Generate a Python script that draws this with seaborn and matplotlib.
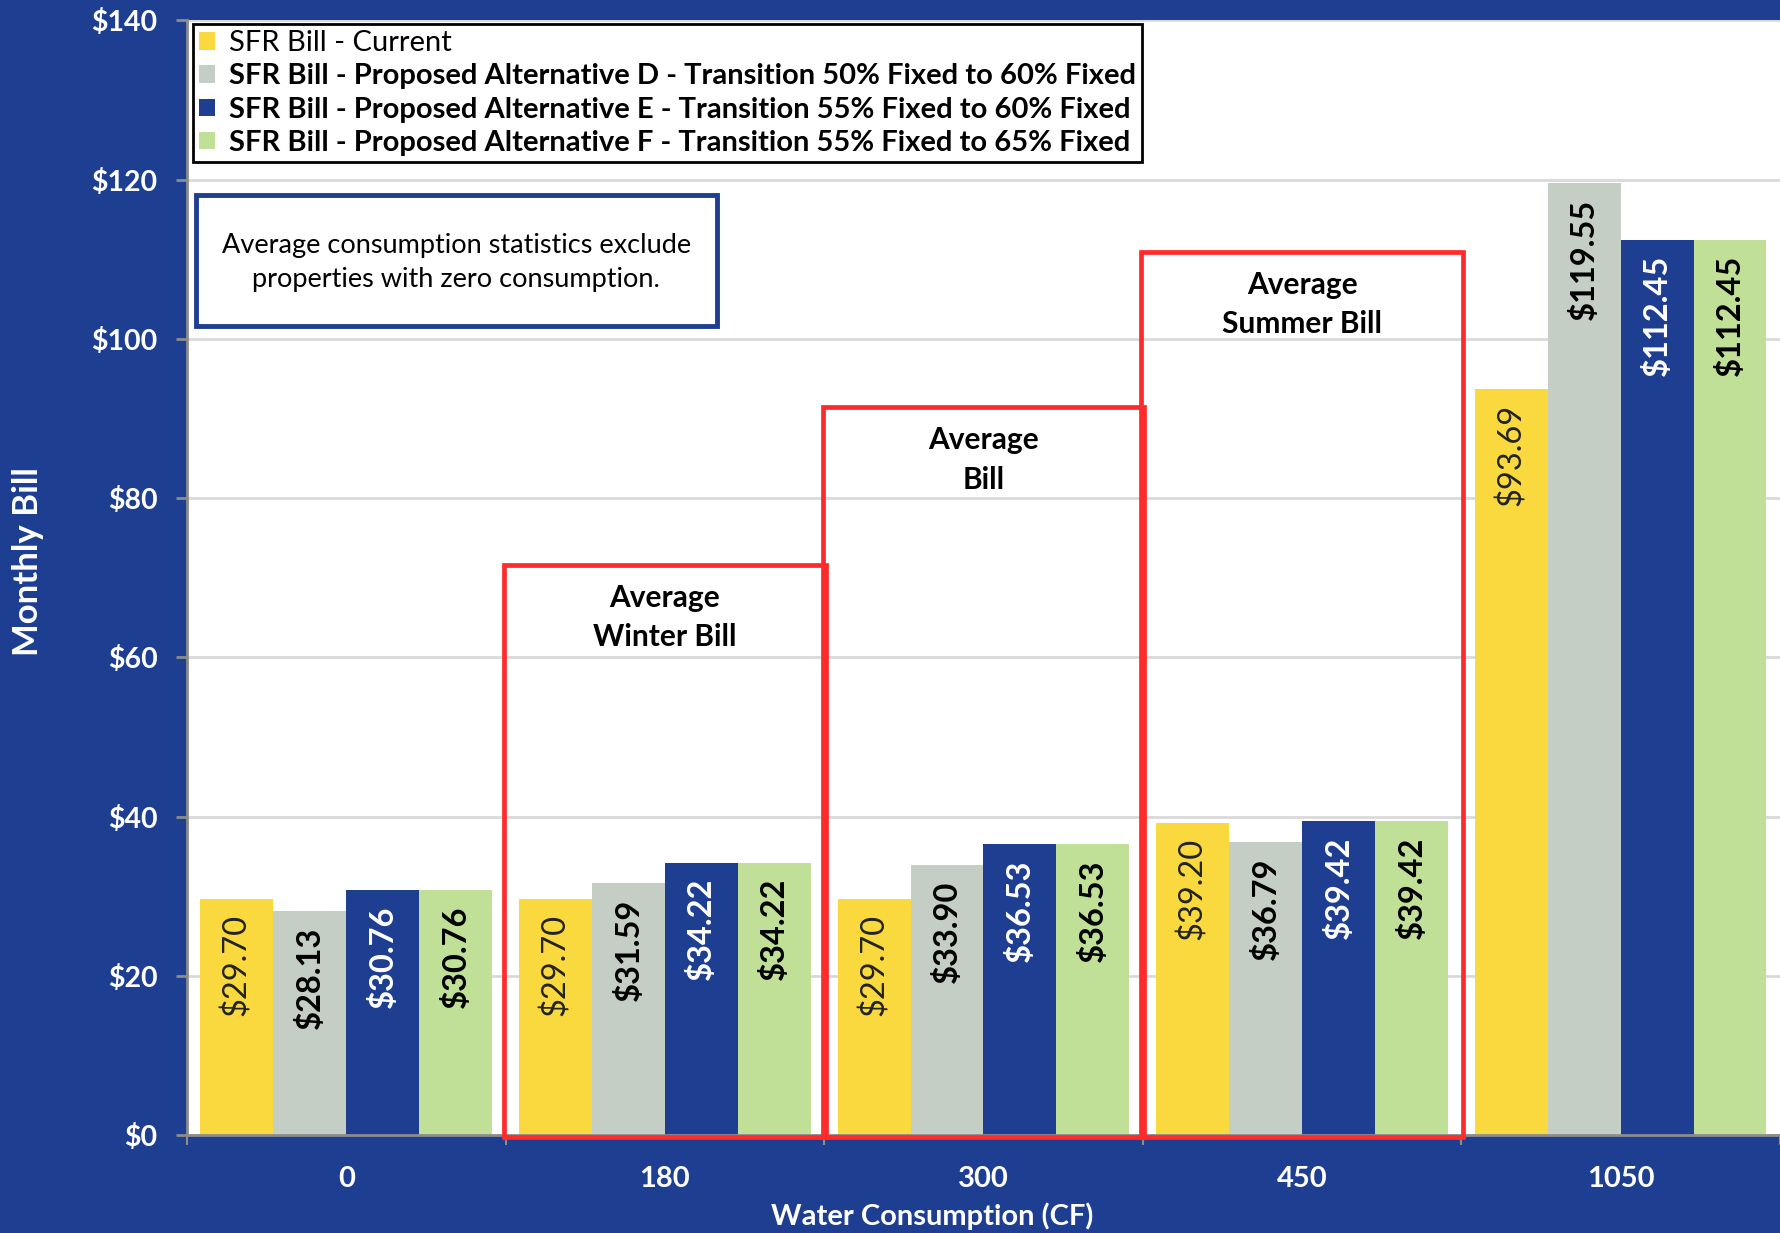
import matplotlib
matplotlib.use("Agg")
import matplotlib.pyplot as plt
from matplotlib.patches import Rectangle
from matplotlib.ticker import FixedLocator, FuncFormatter
import seaborn as sns
import pandas as pd

# ---- data -------------------------------------------------------------
consumption = ["0", "180", "300", "450", "1050"]
series_names = [
    "SFR Bill - Current",
    "SFR Bill - Proposed Alternative D - Transition 50% Fixed to 60% Fixed",
    "SFR Bill - Proposed Alternative E - Transition 55% Fixed to 60% Fixed",
    "SFR Bill - Proposed Alternative F - Transition 55% Fixed to 65% Fixed",
]
bill_current = [29.70, 29.70, 29.70, 39.20, 93.69]
bill_alt_d = [28.13, 31.59, 33.90, 36.79, 119.55]
bill_alt_e = [30.76, 34.22, 36.53, 39.42, 112.45]
bill_alt_f = [30.76, 34.22, 36.53, 39.42, 112.45]

highlight_titles = ["Average\nWinter Bill", "Average\nBill", "Average\nSummer Bill"]
highlight_categories = ["180", "300", "450"]
highlight_tops = [71.6, 91.4, 110.9]

# ---- styling ----------------------------------------------------------
NAVY = "#1E3E91"
colors = ["#F9D93E", "#C4CEC5", NAVY, "#C0DF97"]
label_colors = ["#222222", "black", "white", "black"]
label_weights = ["normal", "bold", "bold", "bold"]

sns.set_theme(style="white")
plt.rcParams["font.family"] = ["Lato", "DejaVu Sans"]

df = pd.DataFrame({
    "consumption": consumption * 4,
    "bill": bill_current + bill_alt_d + bill_alt_e + bill_alt_f,
    "series": sum([[s] * len(consumption) for s in series_names], []),
})

fig = plt.figure(figsize=(17.8, 12.33), dpi=100, facecolor=NAVY)
ax = fig.add_axes([0.105, 0.0795, 0.895, 0.904])
ax.set_facecolor("white")

sns.barplot(data=df, x="consumption", y="bill", hue="series",
            order=consumption, hue_order=series_names, palette=colors,
            width=0.915, linewidth=0, saturation=1, ax=ax, legend=True)

ax.set_ylim(0, 140)
ax.set_xlim(-0.5, 4.5)

# grid
ax.yaxis.set_major_locator(FixedLocator(range(0, 141, 20)))
ax.grid(axis="y", color="#D9D9D9", linewidth=2)
ax.set_axisbelow(True)

for side in ["top", "right"]:
    ax.spines[side].set_visible(False)
for side in ["left", "bottom"]:
    ax.spines[side].set_color("#8C8C8C")
    ax.spines[side].set_linewidth(2)

ax.yaxis.set_major_formatter(FuncFormatter(lambda v, p: f"${v:.0f}"))
ax.tick_params(axis="y", which="major", left=True, length=8, width=2,
               color="#8C8C8C", pad=13, labelsize=20.5, labelcolor="white")
for t in ax.get_yticklabels():
    t.set_fontweight("bold")

ax.set_xticks(range(len(consumption)))
ax.set_xticklabels(consumption)
ax.tick_params(axis="x", which="major", length=0, pad=22, labelsize=21,
               labelcolor="white")
for t in ax.get_xticklabels():
    t.set_fontweight("bold")
ax.set_xticks([i - 0.5 for i in range(len(consumption) + 1)], minor=True)
ax.tick_params(axis="x", which="minor", bottom=True, length=7, width=1.5,
               color="#8C8C8C")

ax.set_xlabel("Water Consumption (CF)", fontsize=21, fontweight="bold",
              color="white")
ax.xaxis.set_label_coords(0.468, -0.073)
ax.xaxis.label.set_va("center")
ax.set_ylabel("Monthly Bill", fontsize=25, fontweight="bold", color="white")
ax.yaxis.set_label_coords(-0.1, 0.514)
ax.yaxis.label.set_va("center")

# value labels, rotated inside each bar near its top
for i, container in enumerate(ax.containers):
    for bar in container:
        h = bar.get_height()
        ax.annotate(f"${h:.2f}", (bar.get_x() + bar.get_width() / 2, h),
                    xytext=(0, -11), textcoords="offset points",
                    rotation=90, ha="center", va="top", fontsize=23.5,
                    color=label_colors[i], fontweight=label_weights[i])

# highlighted consumption groups
for title, cat, top in zip(highlight_titles, highlight_categories, highlight_tops):
    xc = consumption.index(cat)
    ax.add_patch(Rectangle((xc - 0.505, -0.3), 1.01, top + 0.3, fill=False,
                           edgecolor="#FF2A2A", linewidth=3.4, zorder=5,
                           clip_on=False, joinstyle="miter"))
    ax.text(xc, top - 6.6, title, ha="center", va="center", fontsize=21.5,
            fontweight="bold", color="black", linespacing=1.5, zorder=6)

# legend
handles, labels = ax.get_legend_handles_labels()
leg = ax.legend(handles, labels, loc="upper left",
                bbox_to_anchor=(0.0038, 0.997), borderaxespad=0,
                fontsize=21, frameon=True, fancybox=False, edgecolor="black",
                handlelength=0.55, handleheight=0.55, handletextpad=0.45,
                labelspacing=0.25, borderpad=0.22, framealpha=1)
leg.get_frame().set_linewidth(2)
for i, txt in enumerate(leg.get_texts()):
    txt.set_color("black")
    if i > 0:
        txt.set_fontweight("bold")
leg.set_zorder(10)

# note box
ax.add_patch(Rectangle((0.0056, 0.7256), 0.3271, 0.1174, transform=ax.transAxes,
                       facecolor="white", edgecolor=NAVY, linewidth=3.5,
                       zorder=8))
ax.text(0.169, 0.783,
        "Average consumption statistics exclude\nproperties with zero consumption.",
        transform=ax.transAxes, ha="center", va="center", fontsize=19.5,
        color="black", linespacing=1.45, zorder=9)

fig.savefig("out.png", dpi=100, facecolor=NAVY)
